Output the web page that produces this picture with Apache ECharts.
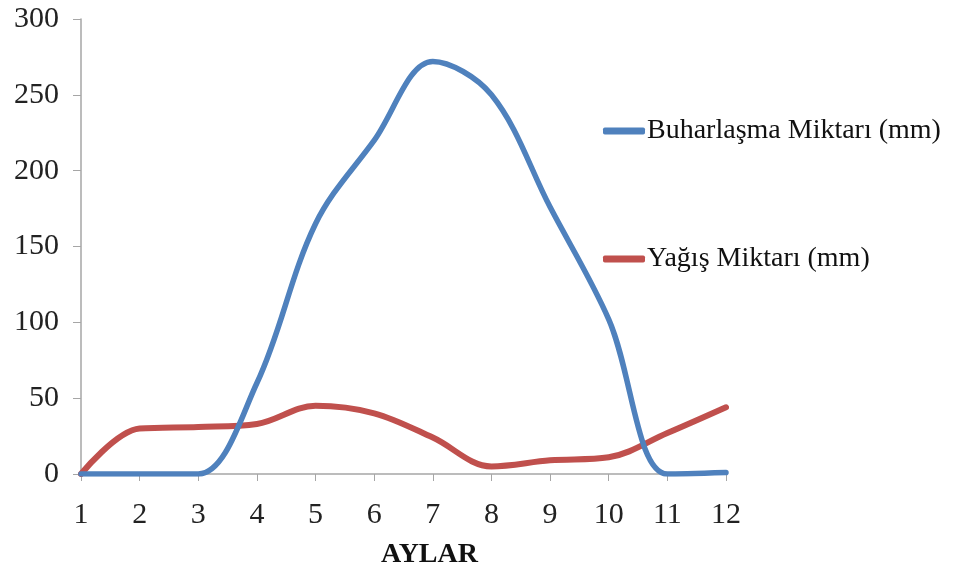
<!DOCTYPE html>
<html>
<head>
<meta charset="utf-8">
<script src="https://cdn.jsdelivr.net/npm/echarts@6/dist/echarts.min.js"></script>
<style>
  html, body { margin: 0; padding: 0; background: #ffffff; }
  #chart { width: 958px; height: 573px; }
</style>
</head>
<body>
<div id="chart"></div>
<script>
// Months (x axis) and y axis ticks
const months = ['1', '2', '3', '4', '5', '6', '7', '8', '9', '10', '11', '12'];
const yTicks = [0, 50, 100, 150, 200, 250, 300];

// Monthly evaporation and precipitation (mm)
const evaporation = [0, 0, 0, 60, 165, 220, 272, 250, 176, 102, 0, 1];
const precipitation = [0, 30, 31, 33, 45, 40, 24, 5, 9, 11, 27, 44];

const seriesNames = ['Buharlaşma Miktarı (mm)', 'Yağış Miktarı (mm)'];
const colors = ['#4F81BD', '#C0504D'];

const serif = '"Liberation Serif", "Times New Roman", serif';
const axisGray = '#a6a6a6';

const chart = echarts.init(document.getElementById('chart'), null, { renderer: 'canvas' });

chart.setOption({
  animation: false,
  backgroundColor: '#ffffff',
  grid: { left: 81, right: 232, top: 19, bottom: 99, containLabel: false },
  title: {
    text: 'AYLAR',
    left: 381,
    top: 541,
    padding: 0,
    textStyle: { fontFamily: serif, fontSize: 28, fontWeight: 'bold', color: '#111111' }
  },
  legend: {
    orient: 'vertical',
    left: 598,
    top: 112,
    itemGap: 100,
    itemWidth: 42,
    itemHeight: 7,
    icon: 'roundRect',
    textStyle: { fontFamily: serif, fontSize: 28, color: '#111111', padding: [0, 0, 0, -3] },
    data: seriesNames
  },
  xAxis: {
    type: 'category',
    data: months,
    boundaryGap: false,
    axisLine: { lineStyle: { color: axisGray, width: 1.5 } },
    axisTick: { show: true, alignWithLabel: true, length: 7, lineStyle: { color: axisGray } },
    axisLabel: { fontFamily: serif, fontSize: 30, color: '#222222', margin: 26 },
    splitLine: { show: false }
  },
  yAxis: {
    type: 'value',
    min: yTicks[0],
    max: yTicks[yTicks.length - 1],
    interval: yTicks[1] - yTicks[0],
    axisLine: { show: true, lineStyle: { color: axisGray, width: 1.5 } },
    axisTick: { show: true, length: 8, lineStyle: { color: axisGray } },
    axisLabel: { fontFamily: serif, fontSize: 30, color: '#222222', margin: 22 },
    splitLine: { show: false }
  },
  series: [
    {
      name: seriesNames[0],
      type: 'line',
      data: evaporation,
      smooth: 0.35,
      symbol: 'none',
      color: colors[0],
      lineStyle: { width: 5.5, color: colors[0], cap: 'round' },
      z: 3
    },
    {
      name: seriesNames[1],
      type: 'line',
      data: precipitation,
      smooth: 0.35,
      symbol: 'none',
      color: colors[1],
      lineStyle: { width: 6, color: colors[1], cap: 'round' },
      z: 2
    }
  ]
});
</script>
</body>
</html>
